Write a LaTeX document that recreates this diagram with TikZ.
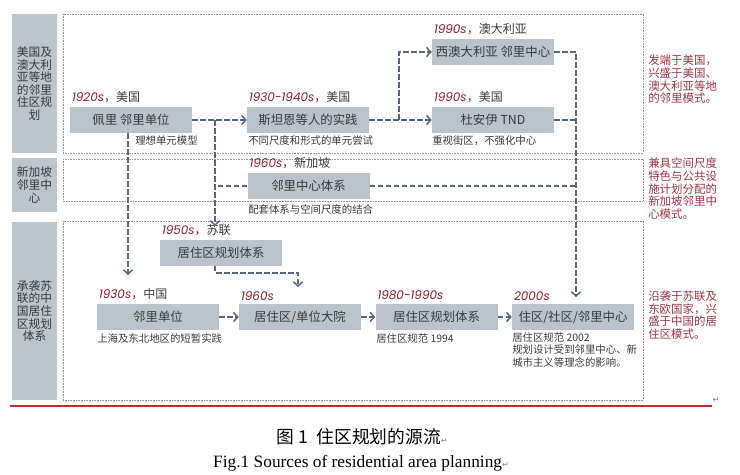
\documentclass[tikz,border=0pt]{standalone}
\usepackage{fontspec}
\setmainfont{Noto Sans CJK SC}
\newfontfamily\yrfont{Poppins}
\newfontfamily\capfont{Liberation Serif}
\newfontfamily\symfont{DejaVu Sans}
\usetikzlibrary{arrows.meta}

\definecolor{boxgray}{HTML}{BAC3CC}
\definecolor{sidegray}{HTML}{BCC4CC}
\definecolor{flowblue}{HTML}{56657A}
\definecolor{yearred}{HTML}{8A1C2C}
\definecolor{notered}{HTML}{9A3444}
\definecolor{txtgray}{HTML}{3A3A3A}
\definecolor{rulered}{HTML}{C0282D}

\newcommand{\yr}[1]{{\yrfont\itshape\color{yearred}#1}}
\newcommand{\retmark}{{\symfont\color{gray}\fontsize{6}{6}\selectfont ↵}}

\tikzset{
  stage/.style={fill=boxgray, minimum width=91.5pt, minimum height=19.5pt, inner sep=0pt,
    text=txtgray, font=\fontsize{9.3}{11}\selectfont},
  yearlbl/.style={anchor=south west, inner sep=0pt, xshift=1.5pt, yshift=2.5pt,
    text=txtgray, font=\fontsize{9}{11}\selectfont},
  notelbl/.style={anchor=west, inner sep=0pt, text=txtgray, align=left,
    font=\fontsize{7.8}{9.7}\selectfont},
  sidelbl/.style={fill=sidegray, minimum width=33.75pt, inner sep=0pt, text=txtgray,
    align=center, font=\fontsize{8.8}{9.45}\selectfont},
  remark/.style={anchor=north west, inner sep=0pt, text=notered, align=left,
    font=\fontsize{8.6}{9.4}\selectfont},
  frame/.style={draw=gray!85, dash pattern=on 0.4pt off 0.8pt, line width=0.6pt},
  link/.style={draw=flowblue, line width=1.4pt, dash pattern=on 4.2pt off 1.8pt},
  flow/.style={link, -{Straight Barb[length=3.2pt,width=7pt,line width=1.1pt]}},
}

\begin{document}
\begin{tikzpicture}[x=0.75pt, y=-0.75pt]
  \useasboundingbox (0,0) rectangle (740,475);

  % Columna izquierda
  \node[sidelbl, minimum height=104.25pt] (side-au) at (34.5,83.5)
    {美国及\\澳大利\\亚等地\\的邻里\\住区规\\划};
  \node[sidelbl, minimum height=40.5pt] (side-sg) at (34.5,185)
    {新加坡\\邻里中\\心};
  \node[sidelbl, minimum height=133.5pt] (side-cn) at (34.5,311)
    {承袭苏\\联的中\\国居住\\区规划\\体系};

  % Marcos
  \draw[frame] (63,14) rectangle (643,153);
  \draw[frame] (63,159) rectangle (643,201);
  \draw[frame] (63,221) rectangle (643,400);

  % Etapas
  \node[stage] (perry) at (131,120) {佩里 邻里单位};
  \node[stage] (stein) at (308,120) {斯坦恩等人的实践};
  \node[stage] (wa) at (493,52) {西澳大利亚 邻里中心};
  \node[stage] (tnd) at (493,120) {杜安伊 TND};
  \node[stage] (sgp) at (308.5,186) {邻里中心体系};
  \node[stage] (ussr) at (221,252.5) {居住区规划体系};
  \node[stage] (cn30) at (158,317) {邻里单位};
  \node[stage] (cn60) at (300,317) {居住区/单位大院};
  \node[stage] (cn80) at (436.5,317) {居住区规划体系};
  \node[stage] (cn00) at (573,317) {住区/社区/邻里中心};

  % Fechas
  \node[yearlbl] (perry-yr) at (perry.north west) {\yr{1920s}，美国};
  \node[yearlbl] (stein-yr) at (stein.north west) {\yr{1930-1940s}，美国};
  \node[yearlbl] (wa-yr) at (wa.north west) {\yr{1990s}，澳大利亚};
  \node[yearlbl] (tnd-yr) at (tnd.north west) {\yr{1990s}，美国};
  \node[yearlbl] (sgp-yr) at (sgp.north west) {\yr{1960s}，新加坡};
  \node[yearlbl] (ussr-yr) at (ussr.north west) {\yr{1950s}，苏联};
  \node[yearlbl] (cn30-yr) at (cn30.north west) {\yr{1930s}，中国};
  \node[yearlbl] (cn60-yr) at (cn60.north west) {\yr{1960s}};
  \node[yearlbl] (cn80-yr) at (cn80.north west) {\yr{1980-1990s}};
  \node[yearlbl] (cn00-yr) at (cn00.north west) {\yr{2000s}};

  % Notas
  \node[notelbl] (perry-note) at (135,141) {理想单元模型};
  \node[notelbl] (stein-note) at (248,141) {不同尺度和形式的单元尝试};
  \node[notelbl] (tnd-note) at (432,141) {重视街区，不强化中心};
  \node[notelbl] (sgp-note) at (248,210) {配套体系与空间尺度的结合};
  \node[notelbl] (cn30-note) at (97,339) {上海及东北地区的短暂实践};
  \node[notelbl] (cn80-note) at (376,339) {居住区规范 1994};
  \node[notelbl, anchor=north west] (cn00-note) at (512,332)
    {居住区规范 2002\\规划设计受到邻里中心、新\\城市主义等理念的影响。};

  % Comentarios
  \node[remark] (rem-au) at (648,55) {发端于美国，\\兴盛于美国、\\澳大利亚等地\\的邻里模式。};
  \node[remark] (rem-sg) at (648,158) {兼具空间尺度\\特色与公共设\\施计划分配的\\新加坡邻里中\\心模式。};
  \node[remark] (rem-cn) at (648,291) {沿袭于苏联及\\东欧国家，兴\\盛于中国的居\\住区模式。};

  % Puntos de paso
  \coordinate (fork) at (399,120);
  \coordinate (east-tip) at (576,297);
  \coordinate (perry-tip) at (128,275);
  \coordinate (mid-tip) at (215,226);
  \coordinate (ussr-tip) at (298,287);

  % Conectores
  \draw[flow] (perry) -- (stein);
  \draw[flow] (stein) -- (tnd);
  \draw[flow] (fork) |- (wa.west);
  \draw[flow] (wa.east) -| (east-tip);
  \draw[link] (tnd.east) -- (tnd.east -| east-tip);
  \draw[link] (sgp.east) -- (sgp.east -| east-tip);
  \draw[flow] (perry.south -| perry-tip) -- (perry-tip);
  \draw[flow] (perry.east -| mid-tip) -- (mid-tip);
  \draw[link] (sgp.west) -- (sgp.west -| mid-tip);
  \draw[flow] (ussr.south -| mid-tip) -- ++(0,7) -| (ussr-tip);
  \draw[flow] (cn30) -- (cn60);
  \draw[flow] (cn60) -- (cn80);
  \draw[flow] (cn80) -- (cn00);

  % Pie
  \draw[rulered, line width=0.8pt] (10,406) -- (712,406);
  \node[inner sep=0pt] (ret-rule) at (716,400) {\retmark};
  \node[inner sep=0pt] (cap-cn) at (362,437)
    {\fontsize{13.3}{15}\selectfont 图 1\hspace{0.5em}住区规划的源流\retmark};
  \node[inner sep=0pt] (cap-en) at (361,463)
    {\capfont\fontsize{13}{15}\selectfont Fig.1 Sources of residential area planning\retmark};
\end{tikzpicture}
\end{document}
